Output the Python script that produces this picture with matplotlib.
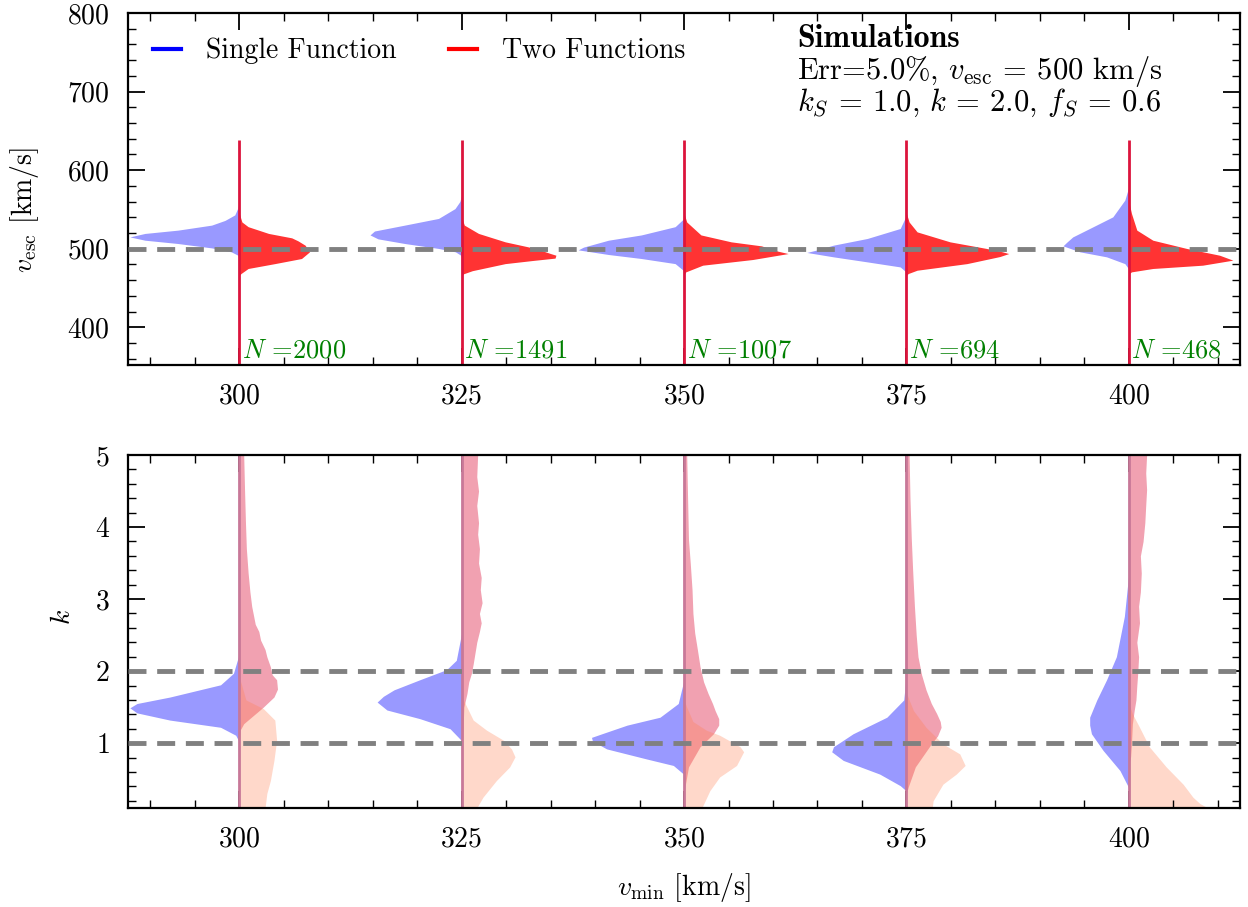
import matplotlib
matplotlib.use("Agg")
import matplotlib.pyplot as plt
from matplotlib.lines import Line2D
from matplotlib.ticker import MultipleLocator

plt.rcParams.update({
    "font.family": "serif",
    "font.serif": ["cmr10"],
    "mathtext.fontset": "cm",
    "axes.formatter.use_mathtext": True,
    "axes.unicode_minus": False,
    "font.size": 20,
})

# -------------------------
# data
# -------------------------
vmin = [300, 325, 350, 375, 400]
n_stars = [2000, 1491, 1007, 694, 468]
vesc_true = 500
k_true = [1.0, 2.0]

# half-violin outlines: (value, half width in km/s)
vesc_single = [
    [(488, 0), (491.7, 0.15), (496, 0.9), (501, 3.1), (506.6, 6.9), (510.8, 10.6), (515, 12.3),
     (519.4, 10.6), (523.6, 6.9), (530, 3.1), (536, 1.6), (543, 0.5), (552, 0.15), (560, 0)],
    [(489, 0), (491.7, 0.1), (496, 0.7), (500.3, 2.6), (506.6, 6.4), (512.5, 9.4), (517.5, 10.3),
     (522.5, 9.8), (530, 6.4), (538.5, 2.6), (551, 0.75), (560, 0.2), (568, 0)],
    [(470, 0), (472.6, 0.1), (481, 1.0), (487.5, 4.8), (492.6, 8.5), (498.5, 11.9), (502, 11.3),
     (510.8, 8.5), (517.5, 4.8), (528, 1.0), (538.5, 0)],
    [(468, 0), (470.5, 0.05), (476.8, 0.7), (483.2, 4.4), (489.6, 8.2), (495.2, 11.2), (498, 10.2),
     (504.5, 8.2), (513, 4.4), (525.7, 0.7), (542.7, 0)],
    [(472, 0), (474.8, 0.05), (481, 0.45), (489.6, 2.5), (496, 5.5), (503.6, 7.4), (508, 7.0),
     (515, 6.3), (528, 4.0), (540.5, 1.8), (561.8, 0.45), (578.7, 0)],
]
vesc_two = [
    [(466, 0), (468.4, 0.2), (474.8, 1.0), (481, 4.0), (487.5, 7.0), (496, 7.9), (504.5, 7.4),
     (510, 6.6), (513.8, 5.9), (519.4, 3.3), (528, 1.0), (534, 0.3), (545, 0)],
    [(465, 0), (468, 0.2), (472, 1.2), (481, 4.9), (485, 8.0), (488, 10.5), (491.7, 10.6),
     (493.8, 10.0), (500.3, 8.3), (508.7, 4.9), (519.4, 1.9), (530, 0.3), (540, 0)],
    [(467, 0), (470.5, 0.2), (479, 2.1), (486.2, 7.7), (493.8, 11.7), (497, 10.5), (503.6, 8.7),
     (508.7, 5.3), (517.5, 1.9), (534, 0.3), (545, 0)],
    [(466, 0), (468.4, 0.2), (472.6, 1.2), (481, 6.8), (490, 10.5), (493.8, 11.5), (496, 10.8),
     (500.3, 9.0), (508.7, 4.9), (521.4, 1.2), (534, 0.3), (545, 0)],
    [(468, 0), (470.5, 0.3), (474.8, 2.7), (479, 8.3), (485.4, 11.7), (491.7, 10.2), (500.3, 6.5),
     (510.8, 2.7), (523.6, 0.9), (544.8, 0.3), (560, 0)],
]

k_single = [
    [(1.0, 0), (1.04, 0.1), (1.11, 0.4), (1.22, 2.1), (1.32, 7.8), (1.42, 11.5), (1.49, 12.3),
     (1.55, 11.5), (1.64, 7.8), (1.81, 2.1), (1.97, 0.65), (2.2, 0.1), (2.4, 0)],
    [(1.0, 0), (1.04, 0.05), (1.2, 1.3), (1.34, 4.7), (1.46, 8.4), (1.57, 9.5), (1.65, 8.8),
     (1.74, 7.6), (1.88, 4.7), (2.02, 1.7), (2.15, 0.6), (2.53, 0)],
    [(0.55, 0), (0.57, 0.05), (0.69, 1.2), (0.78, 4.2), (0.92, 8.7), (1.03, 10.3), (1.08, 10.4),
     (1.14, 9.0), (1.25, 6.4), (1.36, 2.7), (1.55, 0.65), (1.88, 0)],
    [(0.32, 0), (0.34, 0.05), (0.41, 0.7), (0.57, 3.0), (0.76, 7.1), (0.88, 8.4), (0.95, 8.2),
     (1.13, 6.0), (1.36, 2.2), (1.6, 0.3), (1.97, 0)],
    [(0.37, 0), (0.39, 0.05), (0.62, 1.0), (0.9, 2.9), (1.13, 4.2), (1.25, 4.4), (1.36, 4.4),
     (1.6, 3.6), (1.88, 2.5), (2.2, 1.4), (2.76, 0.5), (3.36, 0)],
]
k_two = [
    [(1.0, 0), (1.18, 0.1), (1.27, 0.5), (1.5, 2.7), (1.64, 3.9), (1.75, 4.3), (1.88, 4.2),
     (1.95, 3.7), (2.06, 3.5), (2.2, 3.1), (2.3, 2.9), (2.43, 2.4), (2.55, 2.2), (2.65, 1.8),
     (2.9, 1.4), (3.1, 1.2), (3.36, 1.0), (3.7, 0.8), (4.06, 0.7), (4.5, 0.6), (5.0, 0.5)],
    [(0.3, 0), (1.0, 0.1), (1.5, 0.25), (1.69, 0.6), (1.85, 0.8), (1.97, 1.1), (2.1, 1.3),
     (2.25, 1.5), (2.4, 1.7), (2.55, 2.0), (2.67, 2.2), (2.8, 2.0), (2.95, 2.3), (3.13, 2.1),
     (3.3, 2.2), (3.5, 1.9), (3.7, 2.0), (3.9, 1.8), (4.06, 1.9), (4.3, 1.7), (4.5, 1.9),
     (4.7, 1.7), (5.0, 1.8)],
    [(0.3, 0), (0.39, 0.1), (0.67, 0.5), (0.95, 1.8), (1.13, 3.3), (1.25, 3.9), (1.34, 3.9),
     (1.45, 3.5), (1.55, 3.2), (1.69, 2.7), (1.85, 2.2), (2.06, 1.8), (2.3, 1.5), (2.53, 1.2),
     (2.8, 1.0), (3.13, 0.9), (3.5, 0.7), (3.83, 0.5), (4.4, 0.4), (5.0, 0.3)],
    [(0.3, 0), (0.39, 0.2), (0.67, 1.0), (0.99, 2.8), (1.1, 3.5), (1.22, 3.9), (1.3, 3.8),
     (1.41, 3.4), (1.55, 2.8), (1.74, 2.2), (1.95, 1.7), (2.2, 1.3), (2.5, 1.1), (2.9, 0.9),
     (3.4, 0.7), (3.83, 0.55), (4.4, 0.4), (5.0, 0.3)],
    [(0.7, 0), (0.81, 0.2), (1.0, 0.3), (1.27, 0.4), (1.45, 0.6), (1.6, 0.8), (1.8, 0.9),
     (1.97, 1.0), (2.2, 1.1), (2.4, 0.9), (2.67, 1.2), (2.9, 1.1), (3.1, 1.3), (3.36, 1.4),
     (3.6, 1.3), (3.8, 1.6), (4.06, 1.8), (4.3, 1.9), (4.52, 2.0), (4.75, 1.9), (5.0, 2.0)],
]
kS_two = [
    [(0.1, 2.9), (0.3, 3.1), (0.48, 3.5), (0.76, 3.9), (1.04, 4.2), (1.32, 4.0), (1.48, 2.7),
     (1.6, 0.75), (1.88, 0.1), (2.0, 0)],
    [(0.1, 1.7), (0.25, 2.4), (0.48, 3.9), (0.67, 5.4), (0.81, 6.0), (0.92, 5.6), (1.04, 4.7),
     (1.18, 2.8), (1.32, 1.3), (1.6, 0.2), (1.7, 0)],
    [(0.1, 2.0), (0.34, 2.9), (0.53, 4.0), (0.69, 5.9), (0.88, 6.7), (0.95, 6.3), (1.11, 4.0),
     (1.18, 2.5), (1.3, 1.0), (1.5, 0.3), (1.6, 0)],
    [(0.1, 2.9), (0.2, 3.0), (0.43, 4.1), (0.57, 5.6), (0.69, 6.6), (0.85, 6.0), (0.99, 4.1),
     (1.22, 2.2), (1.45, 0.8), (1.6, 0.3), (1.7, 0)],
    [(0.1, 8.9), (0.16, 8.0), (0.25, 7.2), (0.43, 6.1), (0.67, 4.2), (0.95, 2.3), (1.22, 1.2),
     (1.41, 0.4), (1.55, 0)],
]


def half_violin(ax, x0, knots, side, color, alpha):
    y = [p[0] for p in knots]
    w = [p[1] for p in knots]
    if side == "left":
        ax.fill_betweenx(y, [x0 - v for v in w], x0, color=color, alpha=alpha, lw=0)
    else:
        ax.fill_betweenx(y, x0, [x0 + v for v in w], color=color, alpha=alpha, lw=0)


def style_axes(ax):
    ax.xaxis.set_minor_locator(MultipleLocator(5))
    ax.tick_params(which="both", direction="in", top=True, right=True, labelsize=20)
    ax.tick_params(which="major", length=12, width=1.3)
    ax.tick_params(which="minor", length=5.5, width=1.0)
    ax.tick_params(axis="x", which="major", pad=13)
    ax.tick_params(axis="y", which="major", pad=13)
    for s in ax.spines.values():
        s.set_linewidth(1.6)
    ax.set_xlim(287.5, 412.5)
    ax.set_xticks(vmin)


fig = plt.figure(figsize=(12.48, 9.07), dpi=100)
ax1 = fig.add_axes([0.1026, 0.5976, 0.891, 0.3881])
ax2 = fig.add_axes([0.1026, 0.1092, 0.891, 0.3891])

# -------------------------
# top panel: v_esc
# -------------------------
for i, x0 in enumerate(vmin):
    half_violin(ax1, x0, vesc_single[i], "left", "blue", 0.4)
    half_violin(ax1, x0, vesc_two[i], "right", "red", 0.8)
ax1.vlines(vmin, 340, 638, color="crimson", lw=2, zorder=2.2)
ax1.axhline(vesc_true, color="grey", lw=3.5, ls=(0, (3.7, 2.2)), zorder=3)

for x0, n in zip(vmin, n_stars):
    ax1.text(x0 + 0.3, 362, r"$N$ =" + str(n), color="green", fontsize=19, va="baseline")

style_axes(ax1)
ax1.set_ylim(352, 800)
ax1.set_yticks([400, 500, 600, 700, 800])
ax1.yaxis.set_minor_locator(MultipleLocator(20))
ax1.set_ylabel(r"$v_{\rm esc}$ [km/s]", fontsize=20)
ax1.yaxis.set_label_coords(-0.078, 0.44)

handles = [Line2D([], [], color="blue", lw=3), Line2D([], [], color="red", lw=3)]
ax1.legend(handles, ["Single Function", "Two Functions"], ncol=2, frameon=False,
           loc="upper left", bbox_to_anchor=(0.0, 1.0), fontsize=20,
           handlelength=1.0, handletextpad=0.9, columnspacing=1.9)

ax1.text(0.6016, 0.903, "Simulations", transform=ax1.transAxes, fontsize=23,
         family="cmb10", va="baseline")
ax1.text(0.6016, 0.8125, r"Err=5.0%, $v_{\rm esc}$ = 500 km/s", transform=ax1.transAxes,
         fontsize=22, va="baseline")
ax1.text(0.6016, 0.7216, r"$k_S$ = 1.0, $k$ = 2.0, $f_S$ = 0.6", transform=ax1.transAxes,
         fontsize=22, va="baseline")

# -------------------------
# bottom panel: k
# -------------------------
for i, x0 in enumerate(vmin):
    half_violin(ax2, x0, k_single[i], "left", "blue", 0.4)
    half_violin(ax2, x0, k_two[i], "right", "crimson", 0.4)
    half_violin(ax2, x0, kS_two[i], "right", "coral", 0.3)
ax2.vlines(vmin, 0.0, 5.2, color="#c87898", lw=2, zorder=2.2)
for kt in k_true:
    ax2.axhline(kt, color="grey", lw=3.5, ls=(0, (3.7, 2.2)), zorder=3)

style_axes(ax2)
ax2.set_ylim(0.1, 5)
ax2.set_yticks([1, 2, 3, 4, 5])
ax2.yaxis.set_minor_locator(MultipleLocator(0.2))
ax2.set_ylabel(r"$k$", fontsize=20)
ax2.yaxis.set_label_coords(-0.047, 0.54)
ax2.set_xlabel(r"$v_{\rm min}$ [km/s]", fontsize=20)
ax2.xaxis.set_label_coords(0.5, -0.178)

fig.savefig("out.png", dpi=100)
plt.close(fig)
